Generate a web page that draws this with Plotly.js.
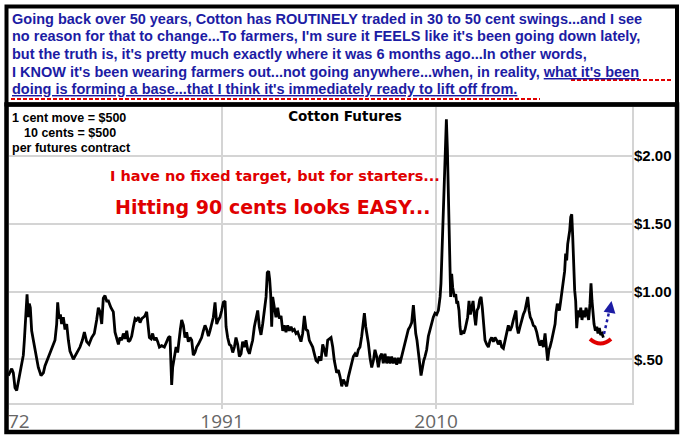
<!DOCTYPE html>
<html><head><meta charset="utf-8">
<script src="https://cdn.plot.ly/plotly-3.0.1.min.js"></script>
<style>html,body{margin:0;padding:0;background:#fff;}#chart{width:682px;height:438px;}</style>
</head><body><div id="chart"></div>
<script>
// Cotton futures, $ per lb
const years = [
1972.03,1972.33,1972.47,1972.62,1972.77,1972.92,1973.07,1973.21,1973.36,1973.45,1973.57,1973.69,1973.80,1973.89,1973.98,
1974.10,1974.25,1974.40,1974.54,1974.69,1974.93,1975.14,1975.28,1975.58,1975.88,1976.17,1976.32,1976.41,1976.53,1976.65,
1976.76,1976.91,1977.06,1977.21,1977.36,1977.50,1977.80,1978.10,1978.39,1978.60,1978.78,1978.98,1979.19,1979.43,1979.66,
1979.87,1980.02,1980.17,1980.32,1980.46,1980.61,1980.76,1980.91,1981.14,1981.35,
1981.50,1981.65,1981.80,1981.94,1982.09,1982.24,1982.39,1982.54,1982.68,1982.83,1982.98,1983.13,1983.28,1983.42,1983.57,
1983.72,1983.87,1984.02,1984.16,1984.31,1984.46,1984.55,1984.70,1984.84,1984.99,1985.14,1985.29,1985.44,1985.64,1985.88,
1986.09,1986.24,1986.38,1986.47,1986.53,1986.62,1986.77,1986.92,1987.06,1987.18,1987.30,1987.42,1987.57,1987.71,1987.86,
1988.01,1988.16,1988.31,1988.45,1988.60,1988.75,1988.90,1989.05,1989.19,1989.34,1989.49,1989.64,1989.79,1989.93,1990.08,
1990.23,1990.38,1990.53,1990.67,1990.82,1990.97,1991.12,1991.27,
1991.36,1991.50,1991.65,1991.80,1991.95,1992.10,1992.24,1992.39,1992.54,1992.69,1992.83,1992.98,1993.13,1993.28,1993.43,
1993.57,1993.72,1993.87,1994.02,1994.17,1994.31,1994.46,1994.61,1994.76,1994.91,1995.02,1995.14,1995.23,1995.32,1995.41,
1995.50,1995.65,1995.79,1995.94,1996.09,1996.24,1996.39,1996.53,1996.68,1996.83,1996.98,1997.13,1997.27,1997.42,1997.57,
1997.72,1997.87,1998.01,1998.16,1998.31,1998.46,1998.61,1998.75,1998.90,1999.05,1999.20,1999.35,1999.49,1999.64,1999.79,
1999.94,2000.09,2000.23,2000.38,2000.53,2000.68,2000.83,2000.97,
2001.18,2001.33,2001.48,2001.63,2001.77,2001.92,2002.07,2002.22,2002.37,2002.51,2002.66,2002.81,2002.96,2003.10,2003.25,
2003.40,2003.55,2003.64,2003.76,2003.87,2003.99,2004.14,2004.29,2004.44,2004.58,2004.73,2004.88,2005.03,2005.18,2005.32,
2005.47,2005.62,2005.77,2005.92,2006.06,2006.21,2006.36,2006.51,2006.66,2006.80,2006.95,2007.10,2007.25,2007.40,2007.54,
2007.69,2007.84,2007.99,2008.08,2008.20,2008.31,2008.43,2008.55,2008.67,2008.79,2008.91,2009.02,2009.17,2009.32,2009.47,
2009.62,2009.76,2009.91,2010.06,2010.21,2010.36,2010.44,2010.56,2010.65,2010.74,2010.83,2010.92,
2011.01,2011.10,2011.15,2011.24,2011.30,2011.39,2011.48,2011.54,2011.63,2011.75,2011.84,2011.92,2012.04,2012.13,2012.22,
2012.34,2012.46,2012.58,2012.69,2012.81,2012.93,2013.05,2013.17,2013.29,2013.40,2013.52,2013.64,2013.76,2013.88,2014.00,
2014.11,2014.23,2014.35,2014.50,2014.65,2014.80,2014.94,2015.09,2015.24,2015.39,2015.53,2015.68,2015.83,2015.98,2016.13,
2016.27,2016.42,2016.57,2016.72,2016.87,2017.01,2017.10,2017.19,2017.31,2017.46,2017.61,2017.75,2017.90,2018.05,2018.14,
2018.26,2018.37,2018.49,2018.64,2018.79,2018.94,2019.09,2019.23,2019.38,2019.53,2019.68,2019.83,2019.91,2020.03,
2020.12,2020.27,2020.42,2020.57,2020.65,2020.77,2020.86,2020.95,2021.07,2021.19,2021.31,2021.42,2021.51,2021.60,2021.69,
2021.78,2021.87,2021.96,2022.05,2022.13,2022.22,2022.31,2022.40,2022.49,2022.61,2022.73,2022.85,2022.96,2023.08,2023.20,
2023.32,2023.44,2023.55,2023.67,2023.76,2023.85,2023.94,2024.03,2024.15,2024.27,2024.38,2024.50,2024.62,2024.74,2024.86
];
const prices = [
0.38,0.43,0.40,0.29,0.27,0.34,0.39,0.47,0.53,0.64,0.83,0.98,0.81,0.91,0.88,
0.71,0.64,0.56,0.51,0.44,0.38,0.40,0.45,0.51,0.58,0.64,0.76,0.92,0.80,0.83,
0.76,0.81,0.72,0.76,0.64,0.56,0.50,0.55,0.59,0.64,0.70,0.63,0.61,0.66,0.69,
0.79,0.88,0.85,0.76,0.95,0.97,0.93,0.93,0.88,0.85,
0.70,0.65,0.61,0.66,0.64,0.69,0.65,0.71,0.63,0.64,0.67,0.74,0.80,0.79,0.81,
0.77,0.80,0.81,0.82,0.85,0.75,0.66,0.65,0.69,0.64,0.66,0.63,0.59,0.60,0.59,
0.63,0.66,0.67,0.45,0.31,0.44,0.51,0.59,0.55,0.66,0.72,0.79,0.75,0.66,0.70,
0.63,0.66,0.64,0.53,0.55,0.59,0.61,0.64,0.66,0.71,0.75,0.72,0.67,0.71,0.76,
0.81,0.92,0.76,0.79,0.81,0.86,0.92,0.93,
0.74,0.66,0.61,0.60,0.55,0.59,0.66,0.61,0.52,0.54,0.63,0.59,0.64,0.57,0.54,
0.59,0.64,0.74,0.81,0.86,0.74,0.68,0.76,0.88,0.96,1.14,1.15,1.09,0.98,0.74,
0.96,0.88,0.81,0.88,0.80,0.82,0.71,0.75,0.70,0.75,0.71,0.74,0.71,0.72,0.69,
0.70,0.66,0.63,0.69,0.82,0.72,0.71,0.64,0.61,0.59,0.54,0.49,0.48,0.52,0.49,
0.61,0.57,0.52,0.64,0.65,0.66,0.59,0.49,
0.40,0.42,0.37,0.30,0.35,0.32,0.30,0.37,0.42,0.47,0.52,0.54,0.52,0.57,0.59,
0.67,0.77,0.84,0.74,0.69,0.62,0.51,0.44,0.49,0.57,0.52,0.44,0.52,0.54,0.47,
0.54,0.47,0.52,0.47,0.52,0.47,0.51,0.46,0.51,0.47,0.52,0.57,0.64,0.67,0.72,
0.74,0.77,0.90,0.77,0.69,0.64,0.57,0.47,0.38,0.44,0.49,0.52,0.57,0.67,0.72,
0.77,0.81,0.84,0.83,0.86,0.96,1.06,1.36,1.58,1.78,2.05,2.27,
2.05,1.59,1.42,1.18,0.96,1.13,1.03,1.00,0.96,0.98,0.91,0.93,0.86,0.74,0.68,
0.71,0.69,0.72,0.76,0.81,0.93,0.83,0.88,0.93,0.83,0.75,0.86,0.88,0.94,0.96,
0.88,0.74,0.64,0.61,0.59,0.64,0.66,0.63,0.66,0.64,0.61,0.64,0.59,0.58,0.64,
0.69,0.75,0.71,0.74,0.79,0.83,0.86,0.74,0.69,0.74,0.79,0.83,0.86,0.94,0.96,
0.86,0.81,0.79,0.75,0.74,0.70,0.64,0.60,0.64,0.59,0.69,0.54,0.49,0.57,
0.59,0.64,0.69,0.76,0.84,0.91,0.88,0.86,0.93,1.01,1.06,1.15,1.28,1.23,1.35,
1.40,1.45,1.55,1.57,1.42,1.18,1.01,0.93,0.73,0.86,0.81,0.88,0.79,0.86,0.81,
0.88,0.84,0.79,0.91,1.06,0.93,0.81,0.76,0.71,0.74,0.69,0.73,0.68,0.69,0.66
];
const xTickVals = [1972, 1991, 2010];
const xTickText = ["1972", "1991", "2010"];
const yTickVals = [0.5, 1.0, 1.5, 2.0];
const yTickText = ["$.50", "$1.00", "$1.50", "$2.00"];
const chartTitle = "Cotton Futures";
const topLines = [
  "Going back over 50 years, Cotton has ROUTINELY traded in 30 to 50 cent swings...and I see",
  "no reason for that to change...To farmers, I'm sure it FEELS like it's been going down lately,",
  "but the truth is, it's pretty much exactly where it was 6 months ago...In other words,",
  "I KNOW it's been wearing farmers out...not going anywhere...when, in reality, <span style='text-decoration:underline'>what it's been</span>",
  "<span style='text-decoration:underline'>doing is forming a base...that I think it's immediately ready to lift off from.</span>"
];
const noteLines = ["1 cent move = $500", "10 cents = $500", "per futures contract"];
const redLine1 = "I have no fixed target, but for starters...";
const redLine2 = "Hitting 90 cents looks EASY...";

// layout helpers: plot area is x 7..632 px, y 107..403 px
const L = 7, R = 632, T = 107, B = 403;
const px = v => (v - L) / (R - L);
const py = v => (B - v) / (B - T);

const BLUE = "#1c1ca4", RED = "#e00000", GRID = "#d4d4d4";

const annotations = [];
const topY = [18.5, 36, 53.5, 71.5, 89];
topLines.forEach((t, i) => annotations.push({
  xref: "paper", yref: "paper", x: px(10), y: py(topY[i]), xanchor: "left", yanchor: "middle",
  text: "<b>" + t + "</b>", showarrow: false,
  font: {family: "Liberation Sans, Arial, sans-serif", size: 14.5, color: BLUE}
}));
const noteX = [10, 22, 10], noteY = [118, 133, 148];
noteLines.forEach((t, i) => annotations.push({
  xref: "paper", yref: "paper", x: px(noteX[i]), y: py(noteY[i]), xanchor: "left", yanchor: "middle",
  text: "<b>" + t + "</b>", showarrow: false,
  font: {family: "Liberation Sans, Arial, sans-serif", size: 12.5, color: "#000"}
}));
annotations.push({
  xref: "paper", yref: "paper", x: px(274.5), y: py(176), xanchor: "center", yanchor: "middle",
  text: "<b>" + redLine1 + "</b>", showarrow: false,
  font: {family: "DejaVu Sans, sans-serif", size: 14.5, color: RED}
});
annotations.push({
  xref: "paper", yref: "paper", x: px(272), y: py(206.5), xanchor: "center", yanchor: "middle",
  text: "<b>" + redLine2 + "</b>", showarrow: false,
  font: {family: "DejaVu Sans, sans-serif", size: 19, color: RED}
});
annotations.push({
  xref: "paper", yref: "paper", x: px(611.5), y: py(301), ax: -1.5, ay: 9,
  text: "", showarrow: true, arrowhead: 2, arrowsize: 1.2, arrowwidth: 2, arrowcolor: BLUE
});

const shapes = [
  // white cover left of border (hides clipped part of first tick label)
  {type: "rect", xref: "paper", yref: "paper", x0: px(-20), x1: px(5), y0: py(440), y1: py(0),
   fillcolor: "#fff", line: {width: 0}, layer: "above"},
  {type: "rect", xref: "paper", yref: "paper", x0: px(6.5), x1: px(677), y0: py(432), y1: py(104.5),
   line: {color: "#000", width: 4.5}, layer: "above"},
  {type: "rect", xref: "paper", yref: "paper", x0: px(6.5), x1: px(677), y0: py(104.5), y1: py(6.5),
   line: {color: "#000", width: 4}, layer: "above"},
  {type: "line", xref: "paper", yref: "paper", x0: px(571), x1: px(671), y0: py(80), y1: py(80),
   line: {color: RED, width: 2, dash: "4px,2px"}},
  {type: "line", xref: "paper", yref: "paper", x0: px(11), x1: px(540), y0: py(99), y1: py(99),
   line: {color: RED, width: 2, dash: "4px,2px"}},
  {type: "line", xref: "paper", yref: "paper", x0: px(604), x1: px(610), y0: py(334), y1: py(308),
   line: {color: BLUE, width: 2.5, dash: "dot"}},
  {type: "path", xref: "paper", yref: "paper",
   path: "M " + px(590) + " " + py(339) + " Q " + px(600.5) + " " + py(348) + " " + px(611) + " " + py(339),
   line: {color: RED, width: 4}}
];

const data = [{
  type: "scatter", mode: "lines", x: years, y: prices,
  line: {color: "#000", width: 2.8}, hoverinfo: "skip"
}];

const layout = {
  width: 682, height: 438,
  margin: {l: L, r: 682 - R, t: T, b: 438 - B, pad: 0},
  paper_bgcolor: "#fff", plot_bgcolor: "#fff",
  showlegend: false,
  title: {text: "<b>" + chartTitle + "</b>", xref: "container", yref: "container",
          x: 345 / 682, y: 1 - 116 / 438, xanchor: "center", yanchor: "middle",
          font: {family: "DejaVu Sans, sans-serif", size: 13.5, color: "#000"}},
  xaxis: {
    range: [1971.91, 2027.40], tickmode: "array", tickvals: xTickVals, ticktext: xTickText,
    showgrid: true, gridcolor: GRID, gridwidth: 2, zeroline: false,
    showline: true, linecolor: GRID, linewidth: 2,
    ticks: "outside", ticklen: 4, tickcolor: GRID, tickwidth: 2,
    tickfont: {family: "Open Sans, sans-serif", size: 19, color: "#666"},
    ticklabelstandoff: -4,
    ticklabeloverflow: "allow", fixedrange: true
  },
  yaxis: {
    side: "right", range: [0.1771, 2.3616], tickmode: "array", tickvals: yTickVals, ticktext: yTickText,
    showgrid: true, gridcolor: GRID, gridwidth: 2, zeroline: false,
    showline: true, linecolor: GRID, linewidth: 2, ticks: "",
    tickfont: {family: "Liberation Sans, Arial, sans-serif", size: 15, color: "#000", weight: "bold"},
    ticklabelstandoff: -3,
    fixedrange: true
  },
  annotations: annotations,
  shapes: shapes
};

Plotly.newPlot("chart", data, layout, {displayModeBar: false, staticPlot: true});
</script>
</body></html>
